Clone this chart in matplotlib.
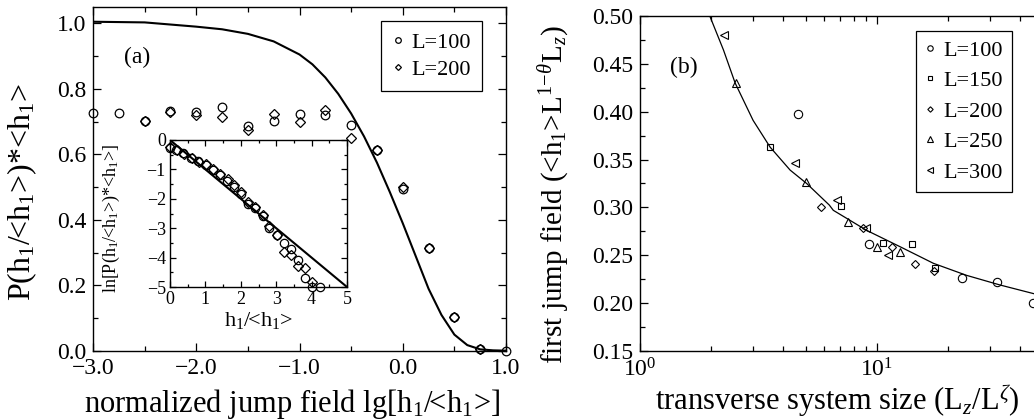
import matplotlib
matplotlib.use("Agg")
import matplotlib.pyplot as plt
from matplotlib.ticker import MultipleLocator, LogLocator, FixedLocator, NullFormatter

plt.rcParams['font.family'] = ['Liberation Serif', 'DejaVu Serif']
plt.rcParams['mathtext.fontset'] = 'custom'
plt.rcParams['mathtext.rm'] = 'Liberation Serif'
plt.rcParams['mathtext.it'] = 'Liberation Serif:italic'
plt.rcParams['axes.unicode_minus'] = True

# ---- panel (a): distribution of first jump field, lg scale
lgh = [-3.0, -2.75, -2.5, -2.25, -2.0, -1.75, -1.5, -1.25, -1.0, -0.75,
       -0.5, -0.25, 0.0, 0.25, 0.5, 0.75, 1.0]
p100 = [0.725, 0.725, 0.703, 0.732, 0.728, 0.745, 0.686, 0.703, 0.722, 0.720,
        0.691, 0.612, 0.494, 0.313, 0.103, 0.007, 0.0]
lgh200 = [-2.5, -2.25, -2.0, -1.75, -1.5, -1.25, -1.0, -0.75,
          -0.5, -0.25, 0.0, 0.25, 0.5, 0.75]
p200 = [0.703, 0.729, 0.720, 0.713, 0.674, 0.722, 0.698, 0.735,
        0.651, 0.612, 0.501, 0.313, 0.103, 0.007]

# theory curve
curve_x = [-3.0, -2.5, -2.0, -1.75, -1.5, -1.25, -1.0, -0.875, -0.75, -0.625,
           -0.5, -0.375, -0.25, -0.125, 0.0, 0.125, 0.25, 0.375, 0.5, 0.625,
           0.75, 0.875, 1.0]
curve_y = [1.005, 1.003, 0.99, 0.982, 0.968, 0.945, 0.905, 0.875, 0.835, 0.785,
           0.725, 0.655, 0.575, 0.485, 0.39, 0.29, 0.19, 0.11, 0.05, 0.018,
           0.005, 0.002, 0.001]

# inset: ln of distribution vs h1/<h1>
ins_x100 = [0.0, 0.17, 0.38, 0.60, 0.80, 1.01, 1.21, 1.42, 1.61, 1.82, 2.01,
            2.21, 2.41, 2.62, 2.81, 3.01, 3.22, 3.41, 3.62, 3.82, 4.02, 4.23]
ins_y100 = [-0.27, -0.34, -0.45, -0.60, -0.72, -0.85, -1.02, -1.19, -1.39, -1.59,
            -1.82, -2.16, -2.31, -2.58, -2.99, -3.24, -3.52, -3.72, -4.09, -4.69,
            -5.0, -5.0]
ins_x200 = [0.0, 0.19, 0.40, 0.62, 0.82, 1.02, 1.21, 1.42, 1.63, 1.82, 2.01,
            2.21, 2.41, 2.62, 2.81, 3.01, 3.22, 3.41, 3.62, 3.82, 4.02]
ins_y200 = [-0.23, -0.34, -0.48, -0.60, -0.74, -0.83, -1.0, -1.16, -1.34, -1.53,
            -1.76, -2.10, -2.27, -2.56, -2.93, -3.24, -3.81, -3.90, -4.28, -4.35,
            -4.83]
ins_line_x = [0.0, 5.0]
ins_line_y = [0.0, -5.0]

# ---- panel (b): first jump field vs transverse size
b_x = {
    100: [4.65, 9.22, 22.9, 32.1, 45.4],
    150: [3.55, 7.07, 10.6, 14.1, 17.5],
    200: [5.83, 8.73, 11.6, 14.5, 17.4],
    250: [2.53, 5.0, 7.55, 10.0, 12.5],
    300: [2.26, 4.5, 6.78, 9.02, 11.1],
}
b_y = {
    100: [0.398, 0.262, 0.2266, 0.222, 0.200],
    150: [0.363, 0.301, 0.263, 0.262, 0.237],
    200: [0.300, 0.279, 0.259, 0.241, 0.2335],
    250: [0.430, 0.327, 0.285, 0.259, 0.253],
    300: [0.480, 0.346, 0.308, 0.278, 0.250],
}
b_markers = {100: 'o', 150: 's', 200: 'D', 250: '^', 300: '<'}
b_msize = {100: 6.0, 150: 4.6, 200: 4.2, 250: 6.0, 300: 6.0}

fit_x = [1.97, 2.25, 2.52, 3.0, 3.54, 4.30, 5.05, 6.29, 6.54, 9.05, 12.5,
         17.3, 23.9, 33.0, 45.7, 60.0]
fit_y = [0.50, 0.4645, 0.43, 0.391, 0.363, 0.339, 0.325, 0.3025, 0.297, 0.276,
         0.259, 0.2416, 0.229, 0.219, 0.210, 0.203]

fig = plt.figure(figsize=(10.34, 4.2), dpi=100)
W, H = 1034.0, 420.0

def style(ax, size):
    ax.tick_params(which='both', direction='in', top=True, right=True,
                   labelsize=size, width=0.9, pad=5)
    ax.tick_params(which='major', length=6)
    ax.tick_params(which='minor', length=3.5)
    for s in ax.spines.values():
        s.set_linewidth(1.0)

# (a)
ax1 = fig.add_axes([93 / W, 69 / H, 413 / W, 344 / H])
ax1.plot(curve_x, curve_y, color='black', lw=1.5)
ax1.plot(lgh, p100, 'o', ms=6.2, mfc='none', mec='black', mew=0.9,
         clip_on=False, label='L=100')
ax1.plot(lgh200, p200, 'D', ms=4.6, mfc='none', mec='black', mew=0.9,
         clip_on=False, label='L=200')
ax1.set_xlim(-3.0, 1.0)
ax1.set_ylim(0.0, 1.05)
ax1.xaxis.set_major_locator(MultipleLocator(1.0))
ax1.xaxis.set_minor_locator(MultipleLocator(0.5))
ax1.yaxis.set_major_locator(MultipleLocator(0.2))
ax1.yaxis.set_minor_locator(MultipleLocator(0.1))
ax1.xaxis.set_major_formatter(plt.FuncFormatter(lambda v, p: f"{v:.1f}".replace('-', '\u2212')))
ax1.yaxis.set_major_formatter(plt.FuncFormatter(lambda v, p: f"{v:.1f}"))
style(ax1, 17)
ax1.set_xlabel("normalized jump field lg[h$_1$/<h$_1$>]", fontsize=22)
ax1.xaxis.set_label_coords(0.483, -0.105)
ax1.set_ylabel("P(h$_1$/<h$_1$>)*<h$_1$>", fontsize=23)
ax1.yaxis.set_label_coords(-0.13, 0.462)
ax1.text(0.107, 0.852, "(a)", transform=ax1.transAxes, fontsize=17,
         ha='center', va='center')
leg1 = ax1.legend(loc='upper right', bbox_to_anchor=(0.942, 0.959),
                  borderaxespad=0, fancybox=False, edgecolor='black',
                  framealpha=1, fontsize=16, markerscale=0.65,
                  handlelength=0.5, handletextpad=0.35, borderpad=0.5,
                  labelspacing=0.3)
leg1.get_frame().set_linewidth(0.9)

# inset
ins = fig.add_axes([170 / W, 133 / H, 177 / W, 147 / H])
ins.plot(ins_line_x, ins_line_y, color='black', lw=1.5)
ins.plot(ins_x100, ins_y100, 'o', ms=6.0, mfc='none', mec='black', mew=0.9,
         clip_on=False)
ins.plot(ins_x200, ins_y200, 'D', ms=4.6, mfc='none', mec='black', mew=0.9,
         clip_on=False)
ins.set_xlim(0, 5)
ins.set_ylim(-5, 0)
ins.xaxis.set_major_locator(MultipleLocator(1))
ins.xaxis.set_minor_locator(MultipleLocator(0.5))
ins.yaxis.set_major_locator(MultipleLocator(1))
ins.yaxis.set_minor_locator(MultipleLocator(0.5))
style(ins, 13)
ins.tick_params(which='major', length=4.5, pad=3)
ins.tick_params(which='minor', length=2.5)
ins.set_xlabel("h$_1$/<h$_1$>", fontsize=16, labelpad=1)
ins.set_ylabel("ln[P(h$_1$/<h$_1$>)*<h$_1$>]", fontsize=13)
ins.yaxis.set_label_coords(-0.27, 0.47)

# (b)  -- axes run past the right edge of the picture, as in the original
ax2 = fig.add_axes([640 / W, 69 / H, 474 / W, 335 / H])
ax2.plot(fit_x, fit_y, color='black', lw=0.9)
for L in [100, 150, 200, 250, 300]:
    ax2.plot(b_x[L], b_y[L], b_markers[L], ms=b_msize[L], mfc='none',
             mec='black', mew=0.8, clip_on=False, label=f"L={L}")
ax2.set_xscale('log')
ax2.set_xlim(1, 100)
ax2.set_ylim(0.15, 0.50)
ax2.xaxis.set_major_locator(FixedLocator([1, 10]))
ax2.xaxis.set_minor_locator(LogLocator(base=10, subs=range(2, 10)))
ax2.xaxis.set_minor_formatter(NullFormatter())
ax2.yaxis.set_major_locator(MultipleLocator(0.05))
ax2.yaxis.set_minor_locator(MultipleLocator(0.025))
ax2.yaxis.set_major_formatter(plt.FuncFormatter(lambda v, p: f"{v:.2f}"))
style(ax2, 17)
ax2.set_xlabel("transverse system size (L$_z$/L$^{\\zeta}$)", fontsize=22)
ax2.xaxis.set_label_coords(0.416, -0.09)
ax2.set_ylabel("first jump field (<h$_1$>L$^{1\\!-\\!\\theta}$L$_z$)", fontsize=21)
ax2.yaxis.set_label_coords(-0.145, 0.466)
ax2.text(0.093, 0.845, "(b)", transform=ax2.transAxes, fontsize=17,
         ha='center', va='center')
leg2 = ax2.legend(loc='upper right', bbox_to_anchor=(0.785, 0.955),
                  borderaxespad=0, fancybox=False, edgecolor='black',
                  framealpha=1, fontsize=16, markerscale=0.65,
                  handlelength=0.5, handletextpad=0.35, borderpad=0.4,
                  labelspacing=0.45)
leg2.get_frame().set_linewidth(0.9)

fig.savefig("out.png", dpi=100)
